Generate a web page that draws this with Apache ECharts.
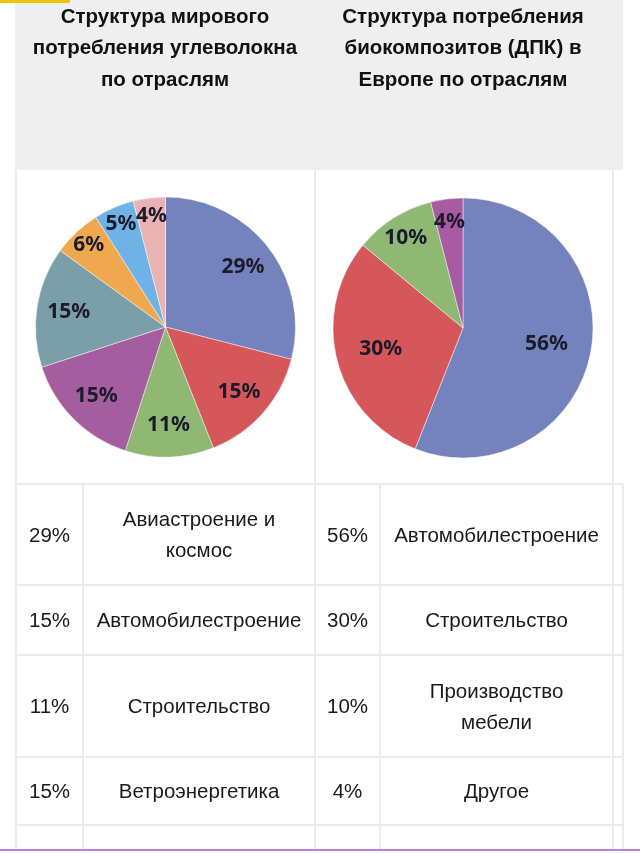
<!DOCTYPE html>
<html><head><meta charset="utf-8">
<script src="https://cdn.jsdelivr.net/npm/echarts@6/dist/echarts.min.js"></script>
<style>html,body{margin:0;padding:0;background:#fff}#c{width:640px;height:853px}</style>
</head><body><div id="c"></div>
<script>
// ---- data ----
const titleLeft = ['Структура мирового', 'потребления углеволокна', 'по отраслям'];
const titleRight = ['Структура потребления', 'биокомпозитов (ДПК) в', 'Европе по отраслям'];
const carbonValues = [29, 15, 11, 15, 15, 6, 5, 4];
const carbonNames = ['Авиастроение и\nкосмос', 'Автомобилестроение', 'Строительство', 'Ветроэнергетика', '', '', '', ''];
const bioValues = [56, 30, 10, 4];
const bioNames = ['Автомобилестроение', 'Строительство', 'Производство\nмебели', 'Другое'];
const visibleRows = 4;

// ---- styles ----
const carbonColors = ['#7483bd', '#d5575a', '#8fb873', '#a45e9f', '#7b9fa8', '#f0a850', '#6fb3e6', '#eab3b3'];
const bioColors = ['#7483bd', '#d5575a', '#8fb873', '#a65ba3'];
const lineColor = '#ebebeb';
const cols = [16, 83, 315, 380, 613, 623];
const rows = [484, 585, 655, 757, 825, 850];

const chart = echarts.init(document.getElementById('c'), null, {renderer: 'canvas'});
const g = [];
g.push({type: 'rect', shape: {x: 15, y: 0, width: 608, height: 170}, style: {fill: '#efefef'}});
g.push({type: 'rect', shape: {x: 0, y: 0, width: 70, height: 3}, style: {fill: '#f3c500'}});
[[titleLeft, 165], [titleRight, 463]].forEach(([t, cx]) => {
  g.push({type: 'text', style: {text: t.join('\n'), x: cx, y: 1.5, align: 'center', verticalAlign: 'top',
    fontSize: 20.5, fontWeight: 'bold', fontFamily: 'Liberation Sans, Arial, sans-serif', lineHeight: 31.5, fill: '#111'}});
});
const vlines = [[16, 170, 850], [315, 170, 850], [613, 170, 850], [623, 484, 850], [83, 484, 850], [380, 484, 850]];
vlines.forEach(([x, y1, y2]) => g.push({type: 'line', shape: {x1: x, y1: y1, x2: x, y2: y2}, style: {stroke: lineColor, lineWidth: 2}}));
rows.slice(0, 5).forEach(y => g.push({type: 'line', shape: {x1: 16, y1: y, x2: 623, y2: y}, style: {stroke: lineColor, lineWidth: 2}}));
const txt = (s, x, y) => ({type: 'text', style: {text: s, x: x, y: y, align: 'center', verticalAlign: 'middle',
  fontSize: 20.5, fontFamily: 'Liberation Sans, Arial, sans-serif', lineHeight: 31, fill: '#1a1a1a'}});
for (let i = 0; i < visibleRows; i++) {
  const yc = (rows[i] + rows[i + 1]) / 2 + 1.5;
  g.push(txt(carbonValues[i] + '%', (cols[0] + cols[1]) / 2, yc));
  g.push(txt(carbonNames[i], (cols[1] + cols[2]) / 2, yc));
  g.push(txt(bioValues[i] + '%', (cols[2] + cols[3]) / 2, yc));
  g.push(txt(bioNames[i], (cols[3] + cols[4]) / 2, yc));
}
g.push({type: 'rect', shape: {x: 0, y: 849, width: 640, height: 2}, style: {fill: '#c27ddc'}});

const R = 130;
function pieBase(center, values, colors) {
  return {
    type: 'pie', center: center, radius: [0, R], startAngle: 90, clockwise: true, silent: true,
    label: {show: false}, labelLine: {show: false},
    itemStyle: {borderColor: 'rgba(255,255,255,0.45)', borderWidth: 1},
    data: values.map((v, i) => ({value: v, itemStyle: {color: colors[i]}}))
  };
}
// transparent ring carrying the labels; labelRadius = (r0 + R) / 2
function pieLabels(center, values, labelRadius, show) {
  return {
    type: 'pie', center: center, radius: [2 * labelRadius - R, R], startAngle: 90, clockwise: true, silent: true,
    avoidLabelOverlap: false, labelLayout: {hideOverlap: false},
    label: {show: true, position: 'inside', fontSize: 21, fontWeight: 'bold',
      fontFamily: 'Noto Sans, Open Sans, sans-serif', color: '#1b1b2b',
      formatter: p => show(p.value) ? p.value + '%' : ''},
    labelLine: {show: false},
    itemStyle: {color: 'rgba(0,0,0,0)', borderWidth: 0},
    data: values.map(v => ({value: v}))
  };
}
const big = v => v >= 8, small = v => v < 8;
const c1 = [165.5, 327], c2 = [463, 328];

chart.setOption({
  animation: false,
  backgroundColor: '#ffffff',
  graphic: {elements: g},
  series: [
    pieBase(c1, carbonValues, carbonColors),
    pieLabels(c1, carbonValues, 95, big),
    pieLabels(c1, carbonValues, 109, small),
    pieBase(c2, bioValues, bioColors),
    pieLabels(c2, bioValues, 82, v => v >= 20),
    pieLabels(c2, bioValues, 104, v => v < 20)
  ]
});
</script></body></html>
